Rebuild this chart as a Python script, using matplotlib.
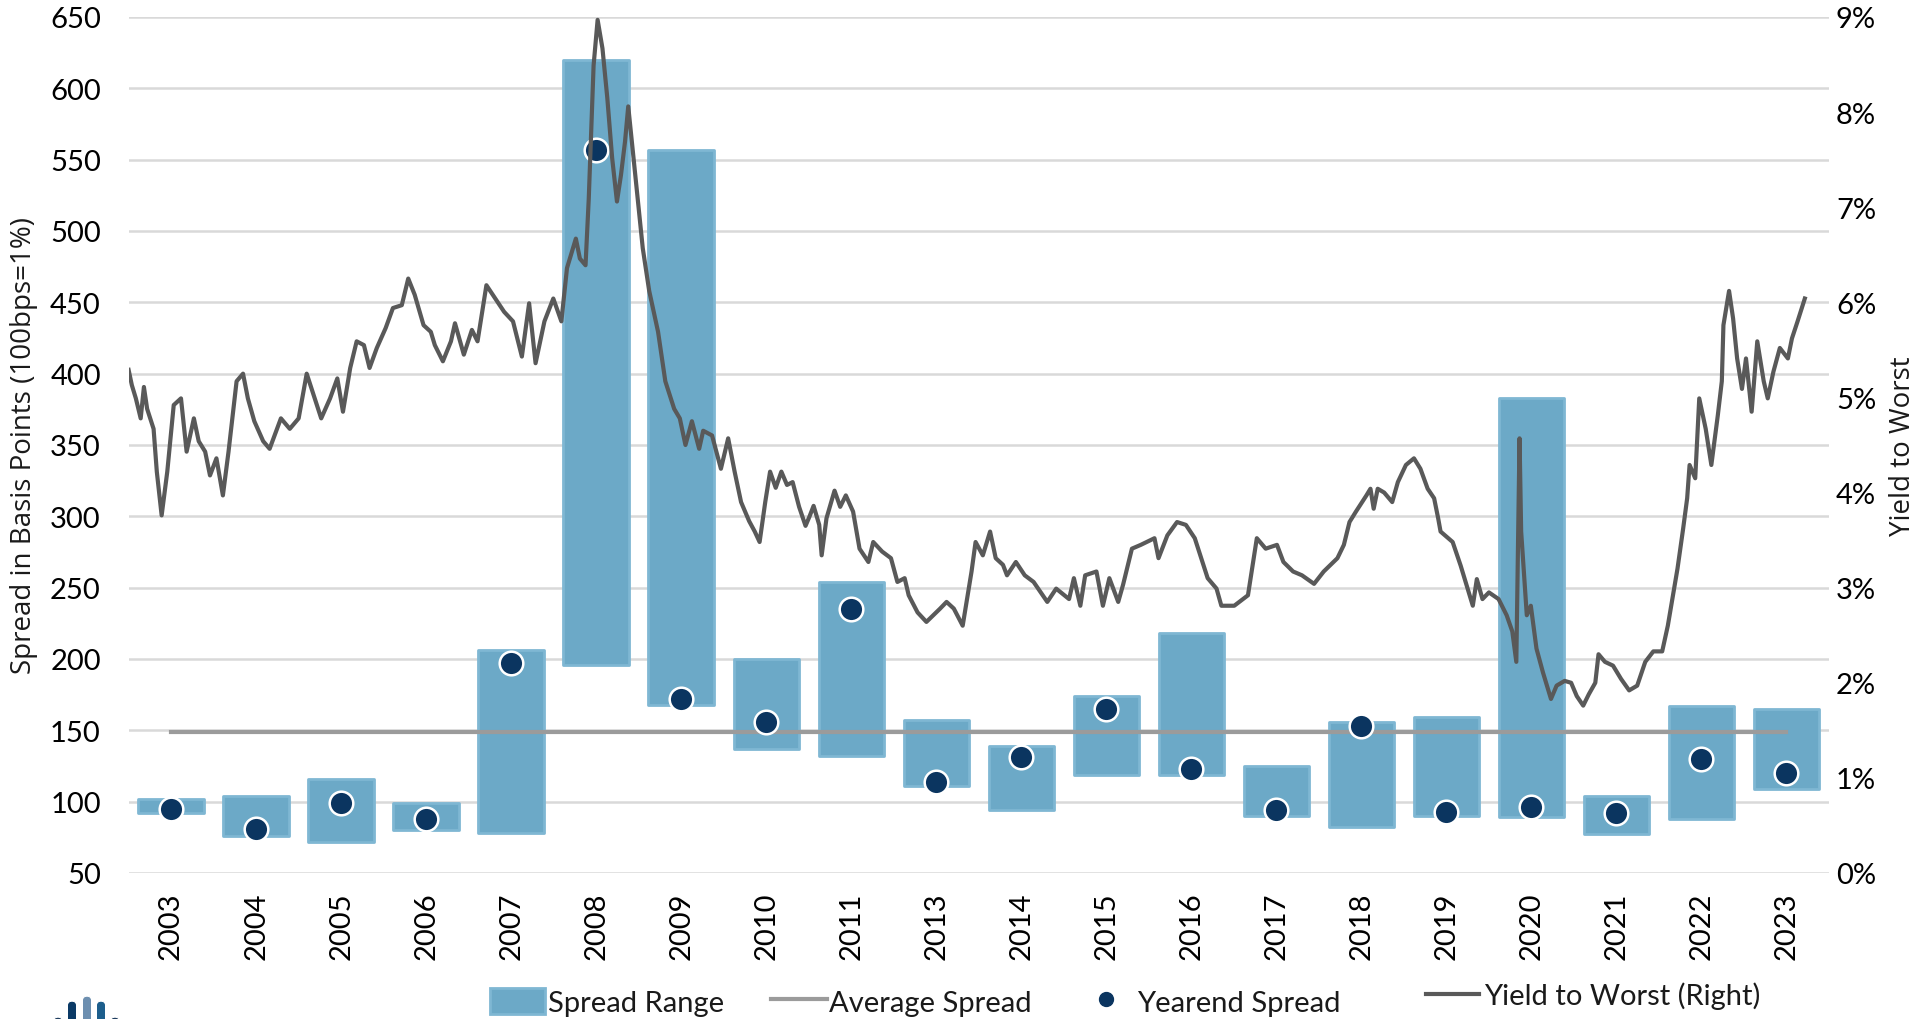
import matplotlib
matplotlib.use("Agg")
import matplotlib.pyplot as plt
from matplotlib.lines import Line2D
from matplotlib.patches import Patch, FancyBboxPatch

# floating-bar data (basis points)
YEARS = ["2003", "2004", "2005", "2006", "2007", "2008", "2009", "2010", "2011", "2013",
         "2014", "2015", "2016", "2017", "2018", "2019", "2020", "2021", "2022", "2023"]
RANGE_HIGH = [102, 104, 116, 99, 206, 620, 557, 200, 254, 157,
              139, 174, 218, 125, 156, 159, 383, 104, 167, 165]
RANGE_LOW = [92, 76, 72, 80, 78, 196, 168, 137, 132, 111,
             94, 119, 119, 90, 82, 90, 89, 77, 88, 109]
YEAREND = [95, 81, 99, 88, 197, 557, 172, 156, 235, 114,
           131, 165, 123, 94, 153, 93, 96, 92, 130, 120]
AVERAGE_SPREAD = 149

# yield to worst (%), dates as decimal years
YTW_DATES = [
    2003.00, 2003.04, 2003.09, 2003.15, 2003.19, 2003.23, 2003.31, 2003.35, 2003.41, 2003.48,
    2003.56, 2003.65, 2003.72, 2003.81, 2003.87, 2003.95, 2004.01, 2004.09, 2004.17, 2004.24,
    2004.34, 2004.42, 2004.48, 2004.56, 2004.67, 2004.75, 2004.89, 2005.00, 2005.11, 2005.21,
    2005.31, 2005.39, 2005.50, 2005.59, 2005.66, 2005.75, 2005.83, 2005.92, 2005.99, 2006.08,
    2006.19, 2006.28, 2006.39, 2006.47, 2006.55, 2006.66, 2006.75, 2006.80, 2006.90, 2007.00,
    2007.05, 2007.16, 2007.26, 2007.33, 2007.44, 2007.55, 2007.66, 2007.77, 2007.88, 2007.97,
    2008.05, 2008.16, 2008.27, 2008.37, 2008.44, 2008.55, 2008.60, 2008.67, 2008.71, 2008.77,
    2008.82, 2008.88, 2008.94, 2009.00, 2009.06, 2009.11, 2009.16, 2009.20, 2009.24, 2009.30,
    2009.38, 2009.46, 2009.57, 2009.66, 2009.77, 2009.84, 2009.91, 2009.99, 2010.08, 2010.13,
    2010.24, 2010.35, 2010.44, 2010.52, 2010.60, 2010.70, 2010.77, 2010.83, 2010.90, 2010.96,
    2011.03, 2011.10, 2011.17, 2011.24, 2011.32, 2011.40, 2011.45, 2011.50, 2011.57, 2011.60,
    2011.66, 2011.76, 2011.83, 2011.90, 2011.99, 2012.07, 2012.18, 2012.24, 2012.35, 2012.46,
    2012.54, 2012.63, 2012.68, 2012.79, 2012.90, 2013.07, 2013.15, 2013.24, 2013.35, 2013.46,
    2013.51, 2013.60, 2013.69, 2013.76, 2013.85, 2013.90, 2014.01, 2014.12, 2014.23, 2014.40,
    2014.51, 2014.67, 2014.73, 2014.81, 2014.87, 2015.01, 2015.09, 2015.17, 2015.28, 2015.34,
    2015.45, 2015.56, 2015.73, 2015.78, 2015.89, 2016.01, 2016.12, 2016.23, 2016.39, 2016.50,
    2016.56, 2016.72, 2016.89, 2017.00, 2017.11, 2017.25, 2017.33, 2017.45, 2017.56, 2017.71,
    2017.83, 2018.00, 2018.08, 2018.15, 2018.23, 2018.36, 2018.41, 2018.45, 2018.50, 2018.58,
    2018.68, 2018.75, 2018.85, 2018.95, 2019.03, 2019.12, 2019.20, 2019.25, 2019.28, 2019.43,
    2019.53, 2019.58, 2019.68, 2019.73, 2019.80, 2019.88, 2020.00, 2020.10, 2020.17, 2020.22,
    2020.26, 2020.28, 2020.35, 2020.40, 2020.47, 2020.55, 2020.65, 2020.72, 2020.82, 2020.90,
    2020.97, 2021.05, 2021.12, 2021.20, 2021.24, 2021.32, 2021.42, 2021.52, 2021.62, 2021.72,
    2021.82, 2021.92, 2022.03, 2022.10, 2022.17, 2022.22, 2022.29, 2022.34, 2022.37, 2022.44,
    2022.49, 2022.57, 2022.64, 2022.72, 2022.77, 2022.79, 2022.86, 2022.91, 2022.96, 2023.02,
    2023.07, 2023.14, 2023.21, 2023.29, 2023.34, 2023.41, 2023.49, 2023.59, 2023.64, 2023.71,
    2023.80,
]
YTW_VALUES = [
    5.29, 5.13, 4.99, 4.78, 5.11, 4.88, 4.67, 4.22, 3.76, 4.22,
    4.92, 4.99, 4.43, 4.78, 4.54, 4.43, 4.18, 4.36, 3.97, 4.43,
    5.17, 5.25, 4.99, 4.75, 4.54, 4.46, 4.78, 4.67, 4.78, 5.25,
    4.99, 4.78, 4.99, 5.20, 4.85, 5.31, 5.59, 5.55, 5.31, 5.52,
    5.73, 5.94, 5.97, 6.25, 6.08, 5.76, 5.69, 5.55, 5.38, 5.59,
    5.78, 5.45, 5.71, 5.59, 6.18, 6.04, 5.90, 5.80, 5.43, 5.99,
    5.36, 5.80, 6.04, 5.80, 6.36, 6.67, 6.46, 6.39, 7.09, 8.49,
    8.97, 8.67, 8.15, 7.52, 7.06, 7.34, 7.69, 8.06, 7.73, 7.23,
    6.57, 6.12, 5.69, 5.17, 4.88, 4.78, 4.50, 4.75, 4.46, 4.65,
    4.60, 4.25, 4.57, 4.22, 3.90, 3.70, 3.59, 3.48, 3.90, 4.22,
    4.05, 4.22, 4.08, 4.11, 3.85, 3.65, 3.75, 3.86, 3.66, 3.34,
    3.73, 4.02, 3.85, 3.97, 3.80, 3.41, 3.27, 3.48, 3.38, 3.31,
    3.06, 3.10, 2.92, 2.74, 2.64, 2.78, 2.85, 2.78, 2.60, 3.17,
    3.48, 3.34, 3.59, 3.31, 3.24, 3.13, 3.27, 3.13, 3.06, 2.85,
    2.99, 2.88, 3.10, 2.81, 3.13, 3.17, 2.81, 3.10, 2.85, 3.03,
    3.41, 3.45, 3.52, 3.31, 3.55, 3.69, 3.66, 3.52, 3.10, 2.99,
    2.81, 2.81, 2.92, 3.52, 3.41, 3.45, 3.27, 3.17, 3.13, 3.04,
    3.17, 3.31, 3.45, 3.69, 3.80, 3.97, 4.04, 3.83, 4.04, 4.00,
    3.90, 4.11, 4.29, 4.36, 4.25, 4.04, 3.94, 3.73, 3.59, 3.48,
    3.23, 3.09, 2.81, 3.09, 2.88, 2.95, 2.88, 2.71, 2.54, 2.22,
    4.57, 3.59, 2.71, 2.81, 2.36, 2.11, 1.83, 1.97, 2.02, 2.00,
    1.86, 1.76, 1.88, 2.00, 2.30, 2.22, 2.18, 2.04, 1.92, 1.97,
    2.22, 2.33, 2.33, 2.60, 2.95, 3.20, 3.62, 3.94, 4.29, 4.15,
    4.99, 4.67, 4.29, 4.81, 5.17, 5.76, 6.12, 5.83, 5.41, 5.09,
    5.41, 4.85, 5.59, 5.17, 4.99, 5.27, 5.52, 5.41, 5.62, 5.80,
    6.04,
]
DATE_AXIS = (2003.0, 2024.1)

BAR_COLOR = "#6ca9c7"
BAR_EDGE = "#7fb7d3"
DOT_COLOR = "#0b3560"
AVG_COLOR = "#9b9b9b"
YTW_COLOR = "#595959"
GRID_COLOR = "#d9d9d9"

plt.rcParams["font.family"] = ["Lato", "DejaVu Sans"]
plt.rcParams["text.color"] = "#1a1a1a"

W, H = 1929, 1020
fig = plt.figure(figsize=(W / 100, H / 100), dpi=100)
rect = [128.6 / W, 1 - 874 / H, (1829 - 128.6) / W, (874 - 18) / H]
ax = fig.add_axes(rect)

x = list(range(len(YEARS)))
heights = [h - l for h, l in zip(RANGE_HIGH, RANGE_LOW)]
ax.bar(x, heights, bottom=RANGE_LOW, width=0.77, color=BAR_COLOR,
       edgecolor=BAR_EDGE, linewidth=2, joinstyle="round", zorder=2)
ax.plot([x[0], x[-1]], [AVERAGE_SPREAD, AVERAGE_SPREAD], color=AVG_COLOR, lw=3, zorder=3)
ax.plot(x, YEAREND, "o", ms=17, mfc=DOT_COLOR, mec="white", mew=1.8, zorder=4)

ax.set_xlim(-0.5, len(YEARS) - 0.5)
ax.set_ylim(50, 650)
ax.set_yticks(range(50, 651, 50))
ax.set_xticks(x)
ax.set_xticklabels(YEARS, rotation=90, fontsize=21)
ax.tick_params(axis="y", length=0, pad=20, labelsize=21)
ax.tick_params(axis="x", length=0, pad=13)
ax.yaxis.grid(True, color=GRID_COLOR, lw=1.8)
ax.set_axisbelow(True)
for s in ax.spines.values():
    s.set_visible(False)
ax.text(-(128.6 - 24) / 1700.4, 0.5, "Spread in Basis Points (100bps=1%)",
        transform=ax.transAxes, rotation=90, ha="center", va="center",
        fontsize=20, family=["Open Sans", "DejaVu Sans"])

# yield line on its own date axis, drawn over the bars
ax3 = fig.add_axes(rect, label="ytw", frameon=False)
ax3.patch.set_visible(False)
ax3.plot(YTW_DATES, YTW_VALUES, color=YTW_COLOR, lw=3, solid_joinstyle="round", zorder=5)
ax3.set_xlim(*DATE_AXIS)
ax3.set_ylim(0, 9)
ax3.set_xticks([])
ax3.yaxis.tick_right()
ax3.set_yticks(range(0, 10))
ax3.set_yticklabels([f"{v}%" for v in range(0, 10)])
ax3.tick_params(axis="y", length=0, pad=5, labelsize=21)
ax3.text((1903 - 128.6) / 1700.4, 0.5, "Yield to Worst", transform=ax3.transAxes,
         rotation=90, ha="center", va="center", fontsize=20,
         family=["Open Sans", "DejaVu Sans"])

handles = [
    Patch(facecolor=BAR_COLOR, edgecolor=BAR_EDGE, linewidth=2),
    Line2D([], [], color=AVG_COLOR, lw=3),
    Line2D([], [], marker="o", ls="", ms=10, color=DOT_COLOR),
]
fig.legend(handles, ["Spread Range", "Average Spread", "Yearend Spread"], ncol=3,
           loc="center left", bbox_to_anchor=(490 / W, 1 - 1003 / H), frameon=False,
           fontsize=21, handlelength=1.9, handleheight=1.0, handletextpad=0.1,
           columnspacing=1.6, borderpad=0, borderaxespad=0)
fig.legend([Line2D([], [], color=YTW_COLOR, lw=3)], ["Yield to Worst (Right)"],
           loc="center left", bbox_to_anchor=(1426 / W, 1 - 996 / H), frameon=False,
           fontsize=21, handlelength=1.8, handletextpad=0.2, borderpad=0, borderaxespad=0)

# small logo bars, bottom left
for cx, top, c in [(58, 1018, "#1f3d5f"), (72, 1002, "#0b3a66"), (87, 997, "#6d8fb0"),
                   (101, 1002, "#1d5e8c"), (115, 1018, "#1f3d5f")]:
    fig.add_artist(FancyBboxPatch(((cx - 4) / W, 1 - 1030 / H), 8 / W, (1030 - top) / H,
                                  boxstyle="round,pad=0,rounding_size=0.004",
                                  transform=fig.transFigure, color=c, lw=0))

fig.savefig("out.png", dpi=100)
